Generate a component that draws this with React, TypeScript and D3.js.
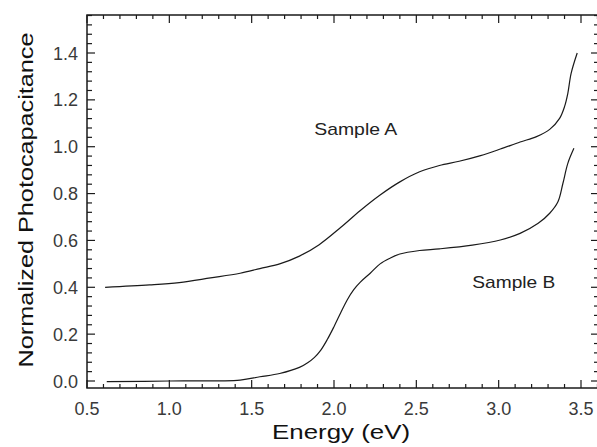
import React, { useEffect, useRef } from "react";
import * as d3 from "d3";

// photocapacitance spectra
const energyA = [0.61, 0.88, 1.06, 1.25, 1.43, 1.55, 1.67, 1.79, 1.91, 2.04, 2.16, 2.28, 2.4, 2.52, 2.64, 2.76, 2.89, 3.01, 3.13, 3.23, 3.31, 3.37, 3.4, 3.42, 3.44, 3.477];
const sampleA = [0.4, 0.41, 0.42, 0.44, 0.46, 0.48, 0.5, 0.533, 0.582, 0.655, 0.728, 0.794, 0.85, 0.893, 0.92, 0.938, 0.962, 0.99, 1.02, 1.043, 1.074, 1.121, 1.171, 1.228, 1.313, 1.4];

const energyB = [0.62, 1.0, 1.43, 1.55, 1.67, 1.79, 1.84, 1.88, 1.92, 1.96, 2.0, 2.04, 2.08, 2.12, 2.16, 2.22, 2.28, 2.34, 2.4, 2.52, 2.64, 2.84, 3.01, 3.13, 3.24, 3.31, 3.36, 3.39, 3.42, 3.457];
const sampleB = [-0.003, 0.0, 0.004, 0.018, 0.032, 0.058, 0.078, 0.1, 0.132, 0.178, 0.232, 0.29, 0.346, 0.39, 0.422, 0.46, 0.5, 0.524, 0.542, 0.557, 0.564, 0.58, 0.602, 0.63, 0.673, 0.716, 0.765, 0.843, 0.929, 0.993];

const xTickValues = [0.5, 1.0, 1.5, 2.0, 2.5, 3.0, 3.5];
const yTickValues = [0.0, 0.2, 0.4, 0.6, 0.8, 1.0, 1.2, 1.4];
const xMinorStep = 0.1;
const yMinorStep = 0.04;

const labels = [
  { text: "Sample A", x: 1.88, y: 1.05 },
  { text: "Sample B", x: 2.84, y: 0.395 },
];

const W = 597;
const H = 447;
const margin = { left: 87, right: -2, top: 15, bottom: 59 };

function PhotoChart() {
  const svgRef = useRef<SVGSVGElement>(null);

  useEffect(() => {
    const svg = d3.select(svgRef.current);
    svg.selectAll("*").remove();

    const x0 = margin.left;
    const x1 = W - margin.right;
    const y0 = margin.top;
    const y1 = H - margin.bottom;

    // 0.5 -> 87px, 3.5 -> 581px
    const xScale = d3.scaleLinear().domain([0.5, 3.5]).range([87, 581]);
    const yScale = d3.scaleLinear().domain([0, 1.4]).range([381, 53]);
    const xMax = xScale.invert(x1);
    const yMax = yScale.invert(y0);

    const xMinor = d3.range(0.5, xMax, xMinorStep).filter((v) => Math.abs(Math.round(v * 2) / 2 - v) > 1e-6);
    const yMinor = d3.range(0, yMax, yMinorStep).filter((v) => Math.abs(Math.round(v * 5) / 5 - v) > 1e-6);

    const ink = "#1a1a1a";

    // ticks (inward, on all four sides)
    const g = svg.append("g").attr("stroke", ink).attr("stroke-width", 1.2);
    const tick = (xa: number, ya: number, xb: number, yb: number) =>
      g.append("line").attr("x1", xa).attr("y1", ya).attr("x2", xb).attr("y2", yb);

    xTickValues.forEach((v) => {
      const px = xScale(v);
      tick(px, y1, px, y1 - 8);
      tick(px, y0, px, y0 + 8);
    });
    xMinor.forEach((v) => {
      const px = xScale(v);
      tick(px, y1, px, y1 - 4);
      tick(px, y0, px, y0 + 4);
    });
    yTickValues.forEach((v) => {
      const py = yScale(v);
      tick(x0, py, x0 + 8, py);
      tick(x1, py, x1 - 8, py);
    });
    yMinor.forEach((v) => {
      const py = yScale(v);
      tick(x0, py, x0 + 5, py);
      tick(x1, py, x1 - 5, py);
    });

    // frame
    svg
      .append("rect")
      .attr("x", x0)
      .attr("y", y0)
      .attr("width", x1 - x0)
      .attr("height", y1 - y0)
      .attr("fill", "none")
      .attr("stroke", ink)
      .attr("stroke-width", 1.5);

    // tick labels
    svg
      .append("g")
      .selectAll("text")
      .data(xTickValues)
      .join("text")
      .attr("x", (d) => xScale(d))
      .attr("y", 415)
      .attr("text-anchor", "middle")
      .attr("font-family", "Liberation Sans, Arial, sans-serif")
      .attr("font-size", 18)
      .attr("fill", "#3a3a3a")
      .text((d) => d3.format(".1f")(d));

    svg
      .append("g")
      .selectAll("text")
      .data(yTickValues)
      .join("text")
      .attr("x", 78)
      .attr("y", (d) => yScale(d) + 6.5)
      .attr("text-anchor", "end")
      .attr("font-family", "Liberation Sans, Arial, sans-serif")
      .attr("font-size", 18)
      .attr("fill", "#3a3a3a")
      .text((d) => d3.format(".1f")(d));

    // curves
    const lineGen = d3
      .line<[number, number]>()
      .x((d) => xScale(d[0]))
      .y((d) => yScale(d[1]))
      .curve(d3.curveCatmullRom.alpha(0.5));

    const series = [
      energyA.map((e, i) => [e, sampleA[i]] as [number, number]),
      energyB.map((e, i) => [e, sampleB[i]] as [number, number]),
    ];
    svg
      .append("g")
      .selectAll("path")
      .data(series)
      .join("path")
      .attr("d", lineGen)
      .attr("fill", "none")
      .attr("stroke", ink)
      .attr("stroke-width", 1.2);

    // sample labels
    svg
      .append("g")
      .selectAll("text")
      .data(labels)
      .join("text")
      .attr("x", (d) => xScale(d.x))
      .attr("y", (d) => yScale(d.y))
      .attr("font-family", "Liberation Sans, Arial, sans-serif")
      .attr("font-size", 17)
      .attr("fill", "#222")
      .attr("textLength", 83)
      .attr("lengthAdjust", "spacingAndGlyphs")
      .text((d) => d.text);

    // axis titles
    svg
      .append("text")
      .attr("x", 341)
      .attr("y", 439)
      .attr("text-anchor", "middle")
      .attr("font-family", "Liberation Sans, Arial, sans-serif")
      .attr("font-size", 21)
      .attr("fill", "#111")
      .attr("textLength", 138)
      .attr("lengthAdjust", "spacingAndGlyphs")
      .text("Energy (eV)");

    svg
      .append("text")
      .attr("transform", "translate(33,200) rotate(-90)")
      .attr("text-anchor", "middle")
      .attr("font-family", "Liberation Sans, Arial, sans-serif")
      .attr("font-size", 21)
      .attr("fill", "#111")
      .attr("textLength", 335)
      .attr("lengthAdjust", "spacingAndGlyphs")
      .text("Normalized Photocapacitance");
  }, []);

  return (
    <svg
      ref={svgRef}
      width={W}
      height={H}
      style={{ position: "absolute", left: 0, top: 0, background: "#fff", overflow: "hidden" }}
    />
  );
}

export default function App() {
  return <PhotoChart />;
}
